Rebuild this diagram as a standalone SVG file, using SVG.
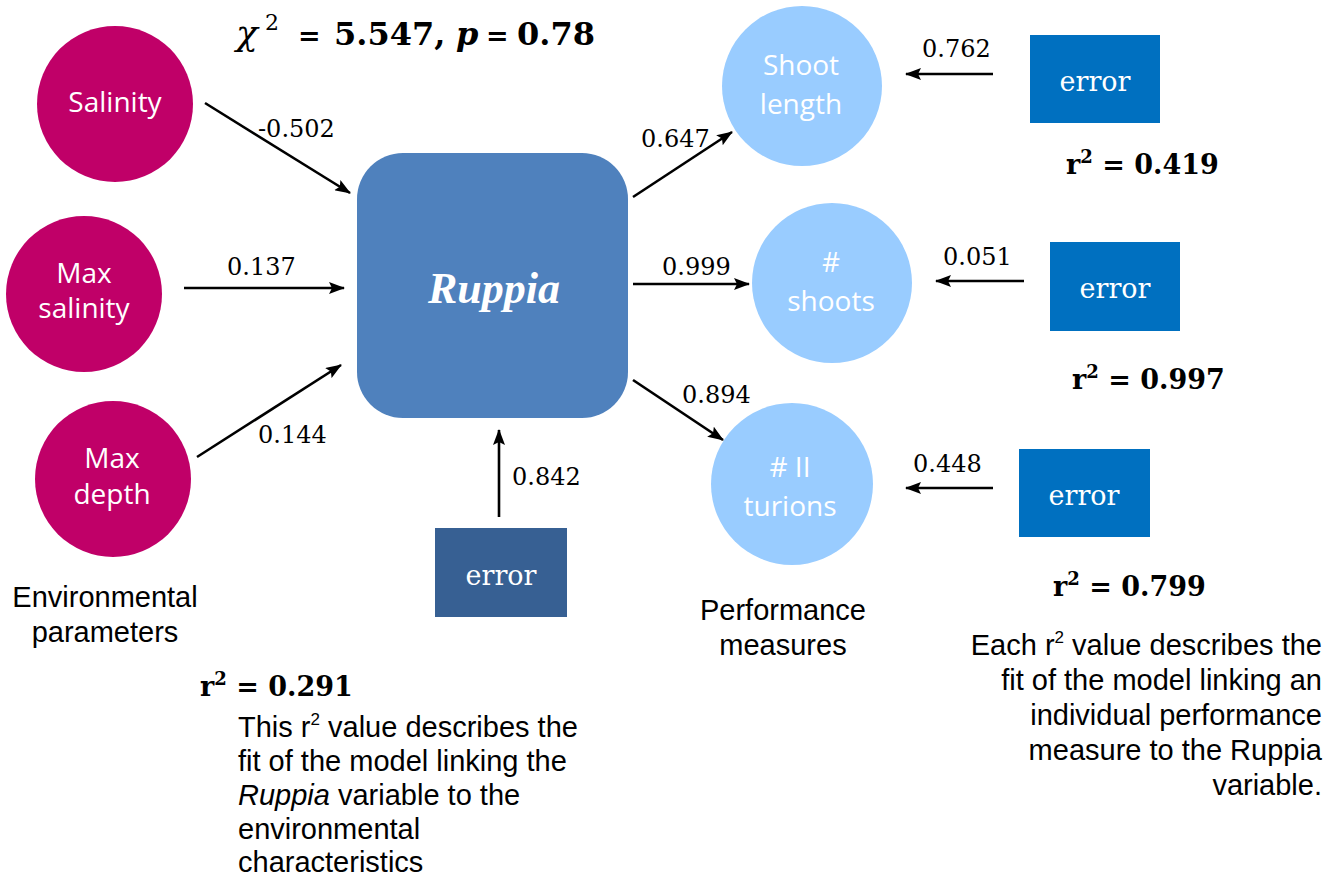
<svg xmlns="http://www.w3.org/2000/svg" width="1342" height="881" viewBox="0 0 1342 881">
  <style>
    .env { fill: #C00068; }
    .perf { fill: #99CCFF; }
    .err { fill: #0070C0; }
    .err-main { fill: #376093; }
    .node-label { font-family: "Open Sans", "Liberation Sans", sans-serif; font-size: 28px; fill: #ffffff; text-anchor: middle; }
    .err-label { font-family: "DejaVu Serif", "Liberation Serif", serif; font-size: 27px; fill: #ffffff; text-anchor: middle; }
    .coef { font-family: "DejaVu Serif", "Liberation Serif", serif; font-size: 24px; fill: #000000; }
    .rsq { font-family: "DejaVu Serif", "Liberation Serif", serif; font-size: 27px; font-weight: bold; fill: #000000; }
    .note { font-family: "Liberation Sans", Arial, sans-serif; font-size: 29px; fill: #000000; }
    .title { font-family: "DejaVu Serif", "Liberation Serif", serif; font-size: 32px; font-weight: bold; fill: #000000; }
    .conn line { stroke: #000000; stroke-width: 2.6; marker-end: url(#arrow); }
  </style>
  <defs>
    <marker id="arrow" markerUnits="userSpaceOnUse" markerWidth="16" markerHeight="12" viewBox="0 0 16 12" refX="15" refY="6" orient="auto">
      <path d="M0,0 L16,6 L0,12 L3,6 Z" fill="#000000"/>
    </marker>
  </defs>

  <rect width="1342" height="881" fill="#ffffff"/>

  <!-- model fit statistic -->
  <text class="title" y="45">
    <tspan x="236" font-style="italic" font-weight="normal" font-size="36">χ</tspan>
    <tspan x="265" y="30" font-size="22" font-weight="normal">2</tspan>
    <tspan x="298" y="45" font-size="27">=</tspan>
    <tspan x="334" font-size="32">5.547,</tspan>
    <tspan x="456" font-style="italic">p</tspan>
    <tspan x="486" font-size="27">=</tspan>
    <tspan x="517" font-size="32">0.78</tspan>
  </text>

  <!-- environmental parameters -->
  <g id="salinity">
    <circle class="env" cx="115" cy="104" r="78"/>
    <text class="node-label" x="115" y="112">Salinity</text>
  </g>
  <g id="max-salinity">
    <circle class="env" cx="84" cy="294" r="78"/>
    <text class="node-label" x="84" y="283">Max</text>
    <text class="node-label" x="84" y="318">salinity</text>
  </g>
  <g id="max-depth">
    <circle class="env" cx="113" cy="479" r="78"/>
    <text class="node-label" x="112" y="468">Max</text>
    <text class="node-label" x="112" y="504">depth</text>
  </g>

  <!-- latent variable -->
  <g id="ruppia">
    <rect x="357" y="153" width="271" height="265" rx="46" ry="46" fill="#4F81BD"/>
    <text x="494" y="303" font-family="Liberation Serif, serif" font-size="44" font-weight="bold" font-style="italic" fill="#ffffff" text-anchor="middle">Ruppia</text>
  </g>
  <g id="ruppia-error">
    <rect class="err-main" x="435" y="528" width="132" height="89"/>
    <text class="err-label" x="501" y="585">error</text>
  </g>

  <!-- performance measures -->
  <g id="shoot-length">
    <circle class="perf" cx="802" cy="86" r="80"/>
    <text class="node-label" x="801" y="75">Shoot</text>
    <text class="node-label" x="801" y="114">length</text>
  </g>
  <g id="shoots">
    <circle class="perf" cx="832" cy="283" r="80"/>
    <text class="node-label" x="831" y="272">#</text>
    <text class="node-label" x="831" y="311">shoots</text>
  </g>
  <g id="turions">
    <circle class="perf" cx="792" cy="484" r="81"/>
    <text class="node-label" x="790" y="477"># II</text>
    <text class="node-label" x="790" y="516">turions</text>
  </g>

  <g id="shoot-length-error">
    <rect class="err" x="1030" y="35" width="130" height="88"/>
    <text class="err-label" x="1095" y="91">error</text>
  </g>
  <g id="shoots-error">
    <rect class="err" x="1050" y="242" width="130" height="89"/>
    <text class="err-label" x="1115" y="298">error</text>
  </g>
  <g id="turions-error">
    <rect class="err" x="1019" y="449" width="131" height="88"/>
    <text class="err-label" x="1084" y="505">error</text>
  </g>

  <!-- path arrows -->
  <g id="connectors" class="conn">
    <line x1="205" y1="103" x2="350" y2="193"/>
    <line x1="184" y1="288" x2="344" y2="288"/>
    <line x1="197" y1="457" x2="341" y2="365"/>
    <line x1="499" y1="517" x2="499" y2="430"/>
    <line x1="633" y1="197" x2="732" y2="132"/>
    <line x1="633" y1="284" x2="749" y2="284"/>
    <line x1="633" y1="380" x2="723" y2="440"/>
    <line x1="993" y1="74" x2="906" y2="74"/>
    <line x1="1024" y1="281" x2="936" y2="281"/>
    <line x1="993" y1="488" x2="906" y2="488"/>
  </g>

  <!-- path coefficients -->
  <g id="coefficients">
    <text class="coef" x="258" y="137">-0.502</text>
    <text class="coef" x="227" y="275">0.137</text>
    <text class="coef" x="258" y="443">0.144</text>
    <text class="coef" x="512" y="485">0.842</text>
    <text class="coef" x="641" y="147">0.647</text>
    <text class="coef" x="662" y="275">0.999</text>
    <text class="coef" x="682" y="403">0.894</text>
    <text class="coef" x="922" y="57">0.762</text>
    <text class="coef" x="943" y="265">0.051</text>
    <text class="coef" x="913" y="472">0.448</text>
  </g>

  <!-- explained variance -->
  <g id="r-squared">
    <text class="rsq" x="1066" y="174">r<tspan dy="-11" font-size="18">2</tspan><tspan dy="11"> = 0.419</tspan></text>
    <text class="rsq" x="1072" y="389">r<tspan dy="-11" font-size="18">2</tspan><tspan dy="11"> = 0.997</tspan></text>
    <text class="rsq" x="1053" y="596">r<tspan dy="-11" font-size="18">2</tspan><tspan dy="11"> = 0.799</tspan></text>
    <text class="rsq" x="200" y="696">r<tspan dy="-11" font-size="18">2</tspan><tspan dy="11"> = 0.291</tspan></text>
  </g>

  <!-- captions -->
  <g id="captions">
    <text class="note" x="105" y="607" text-anchor="middle">Environmental</text>
    <text class="note" x="105" y="642" text-anchor="middle">parameters</text>
    <text class="note" x="783" y="620" text-anchor="middle">Performance</text>
    <text class="note" x="783" y="655" text-anchor="middle">measures</text>

    <text class="note" x="238" y="737">This r<tspan dy="-12" font-size="17">2</tspan><tspan dy="12"> value describes the</tspan></text>
    <text class="note" x="238" y="771">fit of the model linking the</text>
    <text class="note" x="238" y="805"><tspan font-style="italic">Ruppia</tspan> variable to the</text>
    <text class="note" x="238" y="839">environmental</text>
    <text class="note" x="238" y="872">characteristics</text>

    <text class="note" x="1322" y="655" text-anchor="end">Each r<tspan dy="-12" font-size="17">2</tspan><tspan dy="12"> value describes the</tspan></text>
    <text class="note" x="1322" y="690" text-anchor="end">fit of the model linking an</text>
    <text class="note" x="1322" y="725" text-anchor="end">individual performance</text>
    <text class="note" x="1322" y="760" text-anchor="end">measure to the Ruppia</text>
    <text class="note" x="1322" y="795" text-anchor="end">variable.</text>
  </g>
</svg>
